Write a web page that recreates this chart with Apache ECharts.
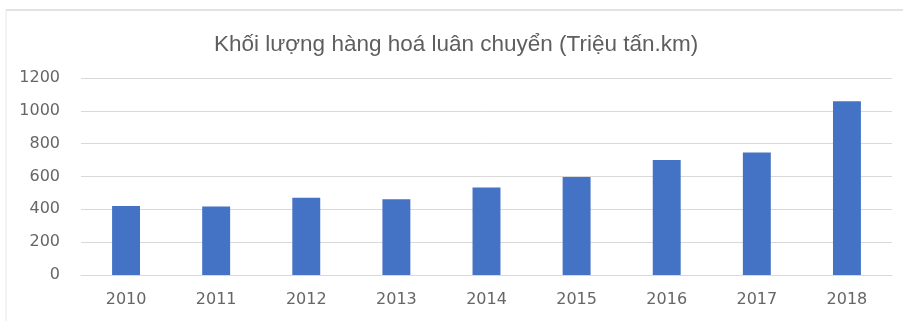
<!DOCTYPE html>
<html>
<head>
<meta charset="utf-8">
<script src="https://cdn.jsdelivr.net/npm/echarts@6/dist/echarts.min.js"></script>
<style>
  html, body { margin: 0; padding: 0; background: #fff; }
  #chart { width: 903px; height: 321px; }
</style>
</head>
<body>
<div id="chart"></div>
<script>
// Freight turnover by year (million tonne-km)
const years = ['2010', '2011', '2012', '2013', '2014', '2015', '2016', '2017', '2018'];
const freight = [420, 418, 471, 462, 533, 597, 701, 746, 1058];
const yTicks = [0, 200, 400, 600, 800, 1000, 1200];

const chart = echarts.init(document.getElementById('chart'));
chart.setOption({
  animation: false,
  backgroundColor: '#ffffff',
  title: {
    text: 'Khối lượng hàng hoá luân chuyển (Triệu tấn.km)',
    left: 209,
    top: 28,
    textStyle: { fontFamily: 'Liberation Sans', fontSize: 22.5, fontWeight: 'normal', color: '#5e5e5e' }
  },
  graphic: [
    { type: 'line', shape: { x1: 6, y1: 10, x2: 903, y2: 10 }, style: { stroke: '#d9d9d9', lineWidth: 1.5 } },
    { type: 'line', shape: { x1: 6, y1: 10, x2: 6, y2: 321 }, style: { stroke: '#e6e6e6', lineWidth: 1 } }
  ],
  grid: { left: 81, right: 11, top: 78, bottom: 46 },
  xAxis: {
    type: 'category',
    data: years,
    axisLine: { lineStyle: { color: '#d9d9d9' } },
    axisTick: { show: false },
    axisLabel: { color: '#666666', fontFamily: 'DejaVu Sans', fontSize: 16, margin: 17 }
  },
  yAxis: {
    type: 'value',
    min: yTicks[0],
    max: yTicks[yTicks.length - 1],
    interval: 200,
    axisLine: { show: false },
    axisTick: { show: false },
    splitLine: { lineStyle: { color: '#d9d9d9' } },
    axisLabel: {
      color: '#666666', fontFamily: 'DejaVu Sans', fontSize: 16, margin: 21,
      formatter: v => String(v)
    }
  },
  series: [{
    type: 'bar',
    data: freight,
    barWidth: '31%',
    itemStyle: { color: '#4472c4' }
  }]
});
</script>
</body>
</html>
